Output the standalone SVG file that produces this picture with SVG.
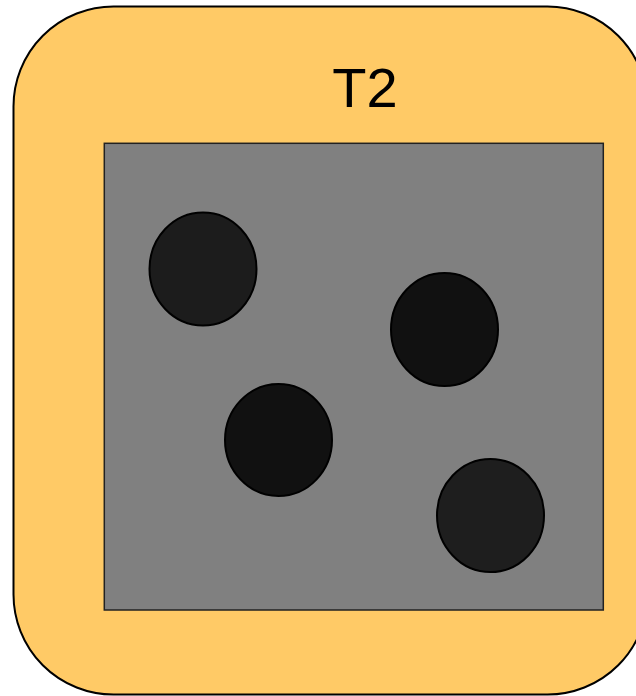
<svg xmlns="http://www.w3.org/2000/svg" width="636" height="696" viewBox="0 0 636 696">
<style>
.outer{fill:#FFCA66;stroke:#000;stroke-width:2}
.inner{fill:#808080;stroke:#222;stroke-width:1.5}
.p{stroke:#000;stroke-width:2}
.lbl{font-family:"Liberation Sans",Arial,sans-serif;font-size:56px;fill:#000}
</style>
<g id="T2">
<rect class="outer" x="13.5" y="6.5" width="634" height="688" rx="100" ry="100"/>
<text class="lbl" x="365" y="107" text-anchor="middle">T2</text>
</g>
<g id="matrix">
<rect class="inner" x="104.3" y="143.3" width="499" height="466.7"/>
</g>
<g id="particle1"><ellipse class="p" cx="203" cy="269" rx="53.5" ry="56.5" fill="#1C1C1C"/></g>
<g id="particle2"><ellipse class="p" cx="444.5" cy="329.5" rx="53.5" ry="56.5" fill="#111111"/></g>
<g id="particle3"><ellipse class="p" cx="278.5" cy="440" rx="53.5" ry="56" fill="#111111"/></g>
<g id="particle4"><ellipse class="p" cx="490.5" cy="515.5" rx="53.5" ry="56.5" fill="#1E1E1E"/></g>
<g id="connectors"/>
</svg>
